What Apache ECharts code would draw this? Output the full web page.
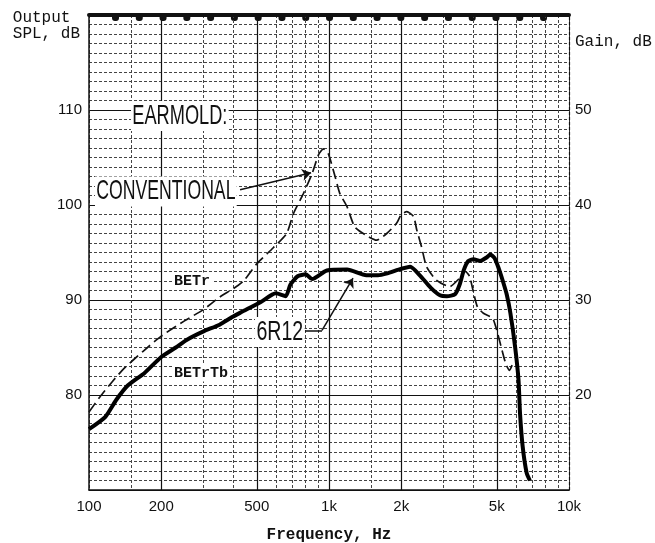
<!DOCTYPE html>
<html>
<head>
<meta charset="utf-8">
<script src="https://cdn.jsdelivr.net/npm/echarts@6/dist/echarts.min.js"></script>
<style>
  html, body { margin: 0; padding: 0; background: #fff; }
  #chart { width: 655px; height: 543px; }
</style>
</head>
<body>
<div id="chart"></div>
<script>
// grid + tick values
const gridFreqs = [100, 150, 200, 300, 400, 500, 600, 700, 800, 900, 1000, 1500, 2000, 3000, 4000, 5000, 6000, 7000, 8000, 9000, 10000]
const majorFreqs = [200, 500, 1000, 2000, 5000]
const freqLabels = [100, 200, 500, 1000, 2000, 5000, 10000]
const splLabels = [80, 90, 100, 110]
const gainLabels = [20, 30, 40, 50]

// dashed curve: BETr / conventional earmold
const betrFreq = [100, 111, 125, 140, 168, 200, 250, 300, 350, 400, 440, 500, 586, 666, 711, 782, 850, 905, 947, 993, 1060, 1110, 1190, 1280, 1430, 1580, 1740, 1915, 2000, 2110, 2250, 2320, 2430, 2550, 2800, 3180, 3500, 3700, 3850, 4000, 4150, 4400, 4800, 4950, 5200, 5450, 5650, 5850]
const betrSpl = [78.2, 79.8, 81.4, 82.8, 84.6, 86.2, 87.8, 89.0, 90.3, 91.2, 92.0, 93.8, 95.5, 97.0, 99.1, 101.2, 103.3, 105.3, 105.9, 105.4, 103.0, 101.2, 99.8, 97.7, 96.8, 96.3, 97.0, 98.1, 99.0, 99.3, 98.8, 97.4, 95.6, 93.5, 92.1, 91.4, 92.3, 93.0, 92.5, 90.8, 89.3, 88.6, 88.1, 87.2, 85.2, 83.3, 82.6, 83.4]

// thick curve: BETrTb / 6R12 earmold
const betrtbFreq = [100, 117, 130, 145, 170, 200, 230, 255, 300, 350, 395, 430, 520, 600, 660, 690, 740, 800, 850, 980, 1190, 1430, 1600, 1750, 1950, 2180, 2390, 2650, 2900, 3100, 3350, 3500, 3650, 3800, 4000, 4260, 4550, 4700, 4900, 5100, 5300, 5500, 5700, 5960, 6160, 6250, 6410, 6660, 6870]
const betrtbSpl = [76.4, 77.7, 79.5, 81.0, 82.3, 84.0, 85.0, 85.8, 86.7, 87.4, 88.2, 88.7, 89.8, 90.7, 90.4, 91.6, 92.5, 92.7, 92.2, 93.1, 93.2, 92.6, 92.6, 92.8, 93.2, 93.5, 92.6, 91.3, 90.5, 90.4, 90.6, 91.6, 93.2, 94.1, 94.3, 94.1, 94.5, 94.8, 94.4, 93.3, 92.0, 90.6, 88.6, 85.1, 81.6, 78.1, 74.6, 71.8, 71.0]

const mono = '"Liberation Mono", "DejaVu Sans Mono", monospace'
const sans = '"Liberation Sans", Arial, sans-serif'

const zip = (xs, ys) => xs.map((x, i) => [x, ys[i]])

function fmtFreq(v) {
  return v >= 1000 ? (v / 1000) + 'k' : String(v)
}

// decorations: chart paper marks on the top border
const bumps = []
for (let i = 0; i < 19; i++) {
  bumps.push({
    type: 'rect',
    shape: { x: 112 + i * 23.78, y: 13, width: 7, height: 8, r: [0, 0, 3, 3] },
    style: { fill: '#111' },
    silent: true
  })
}

function label(text, x, y, font, sx) {
  return {
    type: 'text',
    x: x,
    y: y,
    scaleX: sx || 1,
    z: 10,
    style: {
      text: text,
      font: font,
      fill: '#111',
      textVerticalAlign: 'middle',
      backgroundColor: '#fff',
      padding: [1, 2]
    }
  }
}

const chart = echarts.init(document.getElementById('chart'))

const option = {
  backgroundColor: '#fff',
  animation: false,
  grid: { left: 89, right: 86, top: 15, bottom: 53, containLabel: false, outerBoundsMode: 'none' },
  xAxis: [
    {
      type: 'log',
      logBase: 10,
      min: 100,
      max: 10000,
      axisLine: { lineStyle: { color: '#111', width: 1.5 } },
      axisTick: { show: false, customValues: gridFreqs },
      axisLabel: {
        customValues: freqLabels,
        formatter: fmtFreq,
        margin: 9,
        fontFamily: sans,
        fontSize: 15,
        color: '#111'
      },
      splitLine: { show: true, lineStyle: { color: '#444', width: 1, type: [3, 2] } },
      name: 'Frequency, Hz',
      nameLocation: 'middle',
      nameGap: 37,
      nameTextStyle: { fontFamily: mono, fontSize: 16, fontWeight: 'bold', color: '#111' }
    },
    {
      type: 'log',
      logBase: 10,
      min: 100,
      max: 10000,
      position: 'top',
      axisLine: { show: true, lineStyle: { color: '#111', width: 4 } },
      axisTick: { show: false, customValues: majorFreqs },
      axisLabel: { show: false },
      splitLine: { show: true, lineStyle: { color: '#111', width: 1.2 } }
    }
  ],
  yAxis: [
    {
      type: 'value',
      min: 70,
      max: 120,
      interval: 10,
      axisLine: { show: true, lineStyle: { color: '#111', width: 1.5 } },
      axisTick: { show: false },
      axisLabel: {
        formatter: v => (splLabels.includes(v) ? String(v) : ''),
        margin: 7,
        fontFamily: sans,
        fontSize: 15,
        color: '#111'
      },
      splitLine: { show: true, lineStyle: { color: '#111', width: 1.2 } },
      minorTick: { show: false, splitNumber: 10 },
      minorSplitLine: { show: true, lineStyle: { color: '#444', width: 1, type: [3, 2] } },
      name: 'Output\u00a0\nSPL, dB',
      nameLocation: 'end',
      nameGap: -11,
      nameTextStyle: {
        fontFamily: mono,
        fontSize: 16,
        color: '#111',
        align: 'right',
        verticalAlign: 'middle',
        lineHeight: 16,
        padding: [0, 9, 0, 0]
      }
    },
    {
      type: 'value',
      min: 10,
      max: 60,
      interval: 10,
      position: 'right',
      axisLine: { show: true, lineStyle: { color: '#111', width: 1.2, type: [3, 2] } },
      axisTick: { show: false },
      axisLabel: {
        formatter: v => (gainLabels.includes(v) ? String(v) : ''),
        margin: 6,
        fontFamily: sans,
        fontSize: 15,
        color: '#111'
      },
      splitLine: { show: false },
      name: 'Gain, dB',
      nameLocation: 'end',
      nameGap: -27,
      nameTextStyle: {
        fontFamily: mono,
        fontSize: 16,
        color: '#111',
        align: 'left',
        verticalAlign: 'middle',
        padding: [0, 0, 0, 6]
      }
    }
  ],
  series: [
    {
      name: 'BETr',
      type: 'line',
      data: zip(betrFreq, betrSpl),
      showSymbol: false,
      smooth: 0.2,
      z: 4,
      lineStyle: { color: '#111', width: 1.7, type: [11, 5] }
    },
    {
      name: 'BETrTb',
      type: 'line',
      data: zip(betrtbFreq, betrtbSpl),
      showSymbol: false,
      smooth: 0.2,
      z: 5,
      lineStyle: { color: '#000', width: 4 },
      markLine: {
        silent: true,
        symbolSize: 9,
        label: { show: false },
        lineStyle: { color: '#111', width: 1.5, type: 'solid' },
        data: [
          [{ coord: [426, 101.6], symbol: 'none' }, { coord: [842, 103.4], symbol: 'arrow' }],
          [{ coord: [794, 86.8], symbol: 'none' }, { coord: [935, 86.8], symbol: 'none' }],
          [{ coord: [935, 86.8], symbol: 'none' }, { coord: [1259, 92.3], symbol: 'arrow' }]
        ]
      }
    }
  ],
  graphic: bumps.concat([
    label('EARMOLD:', 131, 116, '28px ' + sans, 0.65),
    label('CONVENTIONAL', 95, 191.5, '28px ' + sans, 0.63),
    label('6R12', 255, 332, '28px ' + sans, 0.7),
    label('BETr', 172, 281, 'bold 15px ' + mono),
    label('BETrTb', 172, 373, 'bold 15px ' + mono)
  ])
}

chart.setOption(option)
</script>
</body>
</html>
